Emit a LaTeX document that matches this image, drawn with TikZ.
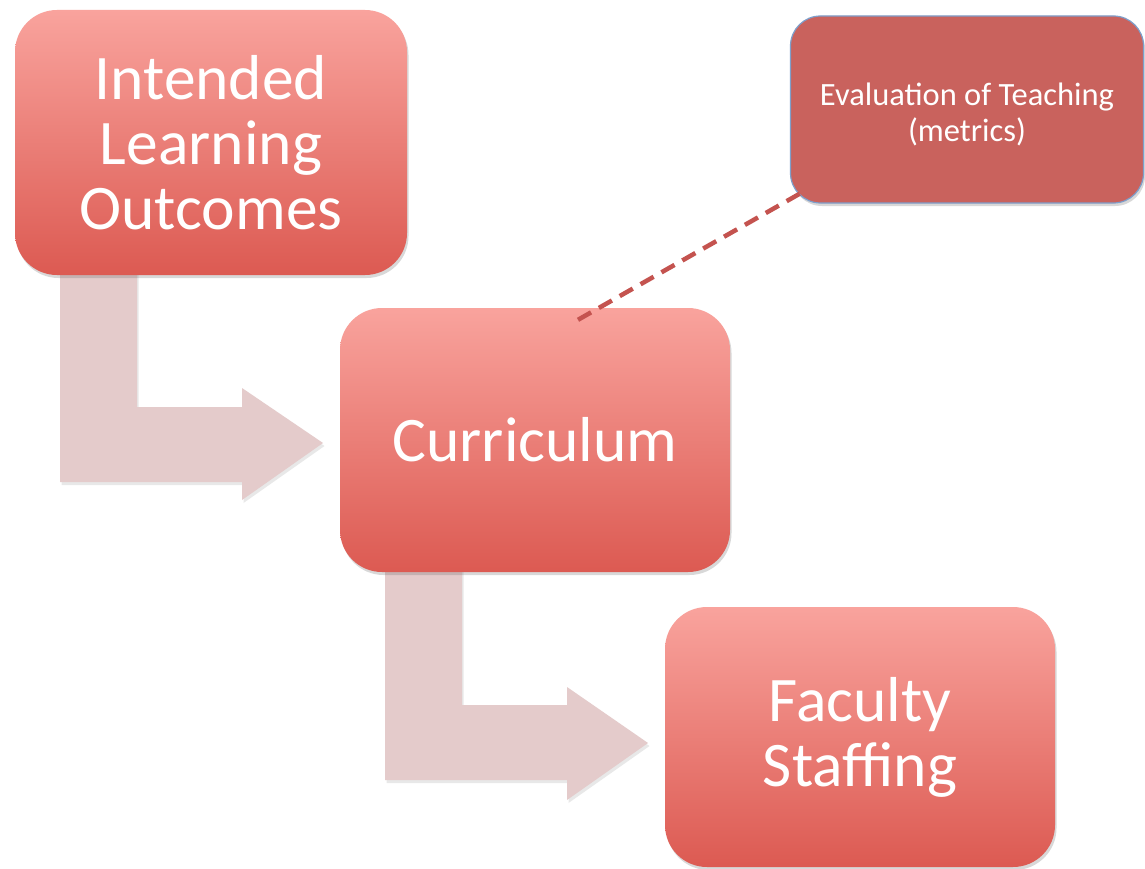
\documentclass[tikz,border=0pt]{standalone}
\usepackage{fontspec}
\setmainfont{Carlito}
\usetikzlibrary{shadows,calc}
\definecolor{boxtop}{HTML}{F9A39D}
\definecolor{boxbot}{HTML}{DC5A52}
\definecolor{arrowfill}{HTML}{E4CBCB}
\definecolor{evalfill}{HTML}{C9625D}
\definecolor{evalborder}{HTML}{7E9FCB}
\definecolor{dashcol}{HTML}{C4534F}
\begin{document}
\begin{tikzpicture}[x=1pt,y=-1pt,
  stagebox/.style={rounded corners=42pt, top color=boxtop, bottom color=boxbot,
    draw=none, text=white, align=center, inner sep=0pt,
    font=\fontsize{63.5}{65}\selectfont,
    drop shadow={shadow xshift=1.5pt, shadow yshift=-3pt, opacity=0.25, fill=black!60}},
  evalbox/.style={rounded corners=30pt, fill=evalfill, draw=evalborder, line width=1.2pt,
    text=white, align=center, inner sep=0pt, font=\fontsize{32.5}{36}\selectfont,
    drop shadow={shadow xshift=1.5pt, shadow yshift=-3pt, opacity=0.25, fill=black!60}},
  bentarrow/.style={fill=arrowfill, draw=none,
    drop shadow={shadow xshift=1.5pt, shadow yshift=-3pt, opacity=0.18, fill=black!50}},
  dashlink/.style={draw=dashcol, line width=4.5pt, dash pattern=on 15pt off 9pt}
]
\useasboundingbox[fill=white] (0,0) rectangle (1145,869);

% bent arrows
\draw[bentarrow] (60,262) -- (137,262) -- (137,407) -- (242,407) -- (242,388)
  -- (323,443) -- (242,500) -- (242,482) -- (60,482) -- cycle;
\draw[bentarrow] (385,560) -- (462,560) -- (462,705) -- (567,705) -- (567,687)
  -- (648,743) -- (567,800) -- (567,780) -- (385,780) -- cycle;

% boxes
\node[stagebox, minimum width=392pt, minimum height=265pt] (ilo) at (211,142.5)
  {Intended\\Learning\\Outcomes};
\node[stagebox, minimum width=390pt, minimum height=264pt] (cur) at (535,440)
  {Curriculum};
\node[stagebox, minimum width=390pt, minimum height=260pt] (fac) at (860,737)
  {Faculty\\Staffing};
\node[evalbox, minimum width=353pt, minimum height=187pt] (eval) at (967,109.5)
  {\rule{0pt}{32pt}Evaluation of Teaching\\(metrics)};

% dashed link
\coordinate (dA) at ($(cur.north)+(43,12)$);
\coordinate (dB) at ($(eval.south west)+(10,-10)$);
\draw[dashlink] (dA) -- (dB);
\end{tikzpicture}
\end{document}
